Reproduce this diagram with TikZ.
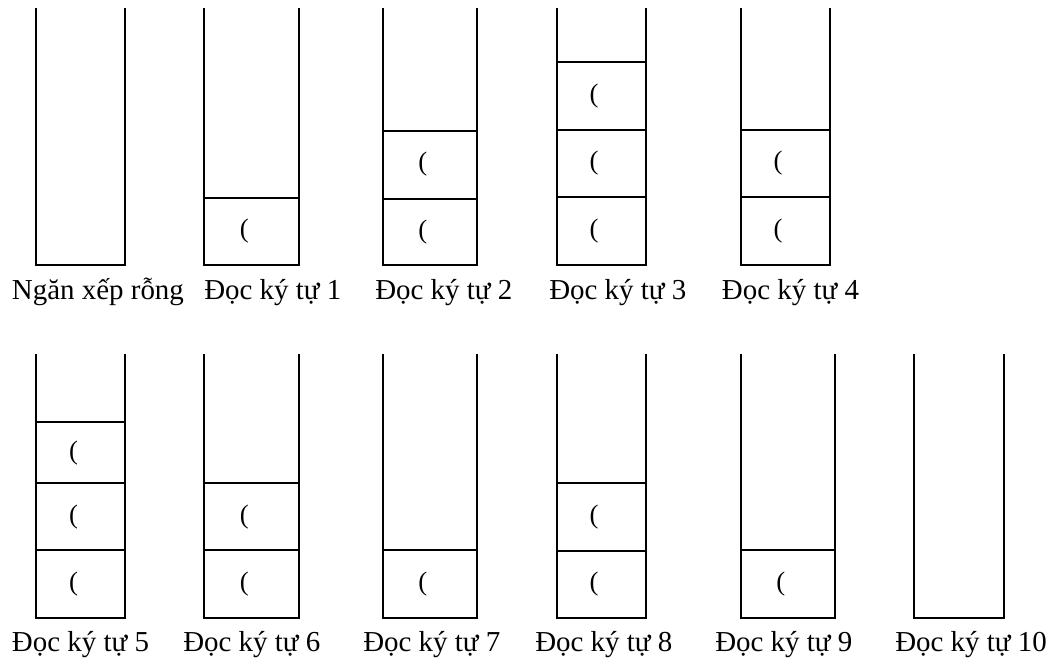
\documentclass[tikz,border=0pt]{standalone}
\usepackage{fontspec}
\setmainfont{Liberation Serif}
\newcommand\stk[5]{% name, xl, xr, ytop, ybot
  \coordinate (#1tl) at (#2,#4);
  \coordinate (#1bl) at (#2,#5);
  \coordinate (#1br) at (#3,#5);
  \coordinate (#1tr) at (#3,#4);
  \draw[wall] (#1tl) -- (#1bl) -- (#1br) -- (#1tr);}
\newcommand\cel[5]{% name, xl, xr, ytop, ybot
  \coordinate (#1l) at (#2,#4);
  \coordinate (#1r) at (#3,#4);
  \draw[wall] (#1l) -- (#1r);
  \node[paren] (#1) at ({(#2+#3)/2-7},{(#4+#5)/2}) {(};}
\begin{document}
\begin{tikzpicture}[x=0.75pt,y=-0.75pt,
  wall/.style={line width=1.5pt, line cap=rect, line join=miter},
  lbl/.style={anchor=base west, inner sep=0pt, font=\fontsize{21.7}{26}\selectfont},
  paren/.style={inner sep=0pt, font=\fontsize{20}{24}\selectfont}]
\useasboundingbox (0,0) rectangle (1055,660);
% ---- top row ----
\stk{s0}{36}{125}{9}{265}
\stk{s1}{204}{298.5}{9}{265}
\cel{s1c1}{204}{298.5}{198}{265}
\stk{s2}{382.5}{477}{9}{265}
\cel{s2c1}{382.5}{477}{198.5}{265}
\cel{s2c2}{382.5}{477}{130.5}{198.5}
\stk{s3}{556.5}{645.5}{9}{265}
\cel{s3c1}{556.5}{645.5}{196.7}{265}
\cel{s3c2}{556.5}{645.5}{130}{196.7}
\cel{s3c3}{556.5}{645.5}{62}{130}
\stk{s4}{740.5}{829.5}{9}{265}
\cel{s4c1}{740.5}{829.5}{196.7}{265}
\cel{s4c2}{740.5}{829.5}{130}{196.7}
\node[lbl] (l0) at (11.7,299) {Ngăn xếp rỗng};
\node[lbl] (l1) at (204,299) {Đọc ký tự 1};
\node[lbl] (l2) at (375,299) {Đọc ký tự 2};
\node[lbl] (l3) at (549,299) {Đọc ký tự 3};
\node[lbl] (l4) at (721.7,299) {Đọc ký tự 4};
% ---- bottom row ----
\stk{s5}{36}{125}{355}{617.7}
\cel{s5c1}{36}{125}{550.3}{617.7}
\cel{s5c2}{36}{125}{483.3}{550.3}
\cel{s5c3}{36}{125}{422.3}{483.3}
\stk{s6}{204}{298.5}{355}{617.7}
\cel{s6c1}{204}{298.5}{550.3}{617.7}
\cel{s6c2}{204}{298.5}{483.3}{550.3}
\stk{s7}{382.5}{477}{355}{617.7}
\cel{s7c1}{382.5}{477}{550.3}{617.7}
\stk{s8}{556.5}{645.5}{355}{617.7}
\cel{s8c1}{556.5}{645.5}{550.5}{617.7}
\cel{s8c2}{556.5}{645.5}{483}{550.5}
\stk{s9}{740.5}{835}{355}{617.7}
\cel{s9c1}{740.5}{835}{550.3}{617.7}
\stk{s10}{914}{1003.5}{355}{617.7}
\node[lbl] (l5) at (11.7,651.5) {Đọc ký tự 5};
\node[lbl] (l6) at (183,651.5) {Đọc ký tự 6};
\node[lbl] (l7) at (363,651.5) {Đọc ký tự 7};
\node[lbl] (l8) at (535,651.5) {Đọc ký tự 8};
\node[lbl] (l9) at (715,651.5) {Đọc ký tự 9};
\node[lbl] (l10) at (895,651.5) {Đọc ký tự 10};
\end{tikzpicture}
\end{document}
